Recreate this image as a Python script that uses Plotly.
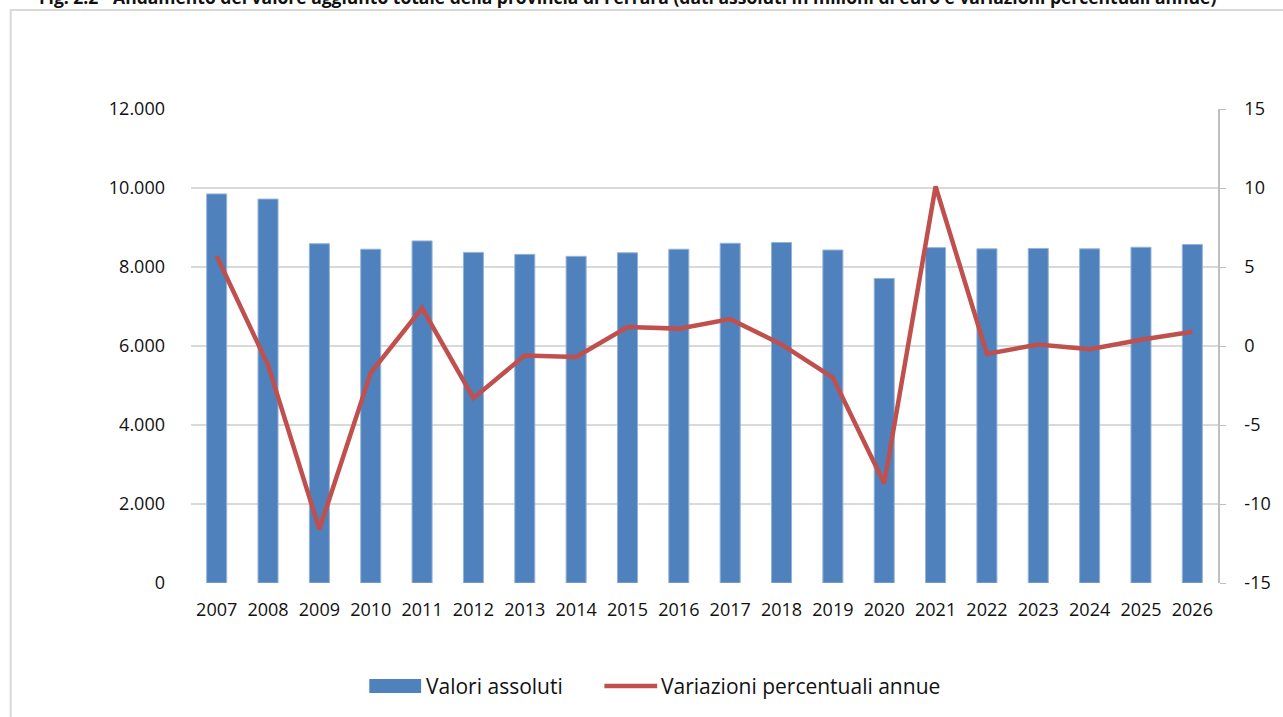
import plotly.graph_objects as go

years = [str(y) for y in range(2007, 2027)]
valori_assoluti = [9850, 9720, 8590, 8450, 8660, 8370, 8320, 8270, 8360, 8450,
                   8600, 8620, 8430, 7710, 8490, 8460, 8470, 8460, 8500, 8570]
variazioni_pct = [5.7, -1.2, -11.6, -1.7, 2.4, -3.3, -0.6, -0.7, 1.2, 1.1,
                  1.7, 0.1, -2.0, -8.7, 10.1, -0.5, 0.1, -0.2, 0.4, 0.9]
left_ticks = [0, 2000, 4000, 6000, 8000, 10000, 12000]
right_ticks = [-15, -10, -5, 0, 5, 10, 15]
right_tick_labels = ["-15", "-10", "-5", "0", "5", "10", "15"]

title_text = ("Fig. 2.2 - Andamento del valore aggiunto totale della provincia di Ferrara "
              "(dati assoluti in milioni di euro e variazioni percentuali annue)")
name_bar = "Valori assoluti"
name_line = "Variazioni percentuali annue"

FONT = "'Open Sans', Lato, sans-serif"
BLUE = "#4f81bd"
RED = "#c0504d"
GRID = "#d9d9d9"
TXT = "#111111"

W, H = 1283, 717
L, R, T, B = 191, 61, 109, 134
PW, PH = W - L - R, H - T - B


def px(x):
    return (x - L) / PW


def py(y):
    return (H - B - y) / PH


fig = go.Figure()
fig.add_trace(go.Bar(
    x=years, y=valori_assoluti, name=name_bar,
    marker=dict(color=BLUE, line=dict(color="#95b3d7", width=1)),
    yaxis="y", showlegend=False,
))
fig.add_trace(go.Scatter(
    x=years, y=variazioni_pct, name=name_line, mode="lines",
    line=dict(color=RED, width=4.5),
    yaxis="y2", showlegend=False,
))

shapes = [
    # outer chart frame (left and top edges; the rest lies outside the page)
    dict(type="line", xref="paper", yref="paper",
         x0=px(10), x1=px(10), y0=py(H + 30), y1=py(10),
         line=dict(color=GRID, width=2), layer="below"),
    dict(type="line", xref="paper", yref="paper",
         x0=px(9), x1=px(W + 30), y0=py(10), y1=py(10),
         line=dict(color=GRID, width=2), layer="below"),
    # legend glyphs
    dict(type="rect", xref="paper", yref="paper",
         x0=px(370), x1=px(422), y0=py(693), y1=py(679),
         line=dict(width=0), fillcolor=BLUE),
    dict(type="line", xref="paper", yref="paper",
         x0=px(606), x1=px(659), y0=py(686), y1=py(686),
         line=dict(color=RED, width=4.5)),
]
annotations = [
    dict(text="<b>" + title_text + "</b>", xref="paper", yref="paper",
         x=px(629), y=py(-3), xanchor="center", yanchor="middle", showarrow=False,
         font=dict(family=FONT, size=17.5, color=TXT)),
    dict(text=name_bar, xref="paper", yref="paper", x=px(425), y=py(686),
         xanchor="left", yanchor="middle", showarrow=False,
         font=dict(family=FONT, size=21, color=TXT)),
    dict(text=name_line, xref="paper", yref="paper", x=px(661), y=py(686),
         xanchor="left", yanchor="middle", showarrow=False,
         font=dict(family=FONT, size=21, color=TXT)),
]

fig.update_layout(
    width=W, height=H,
    margin=dict(l=L, r=R, t=T, b=B),
    paper_bgcolor="white", plot_bgcolor="white",
    separators=",.",
    font=dict(family=FONT, size=18, color=TXT),
    bargap=0.61,
    showlegend=False,
    xaxis=dict(type="category", showgrid=False, showline=False, ticks="",
               ticklabelstandoff=14, tickfont=dict(size=18)),
    yaxis=dict(range=[0, 12000], tickvals=left_ticks, tickformat=",d",
               showgrid=True, gridcolor=GRID, gridwidth=1.5,
               zeroline=False, showline=False, ticks="",
               ticklabelstandoff=25, tickfont=dict(size=18)),
    yaxis2=dict(range=[-15, 15], tickvals=right_ticks, ticktext=right_tick_labels,
                overlaying="y", side="right",
                showgrid=False, zeroline=False, showline=True, linecolor="#bfbfbf",
                linewidth=1.5, ticks="outside", ticklen=6, tickcolor="#bfbfbf",
                ticklabelstandoff=15, tickfont=dict(size=18)),
    shapes=shapes,
    annotations=annotations,
)

fig.write_html(
    "out.html",
    config={"displayModeBar": False},
    post_script=("document.body.style.margin='0';"
                 "document.body.style.overflow='hidden';"
                 "document.documentElement.style.overflow='hidden';"),
)
